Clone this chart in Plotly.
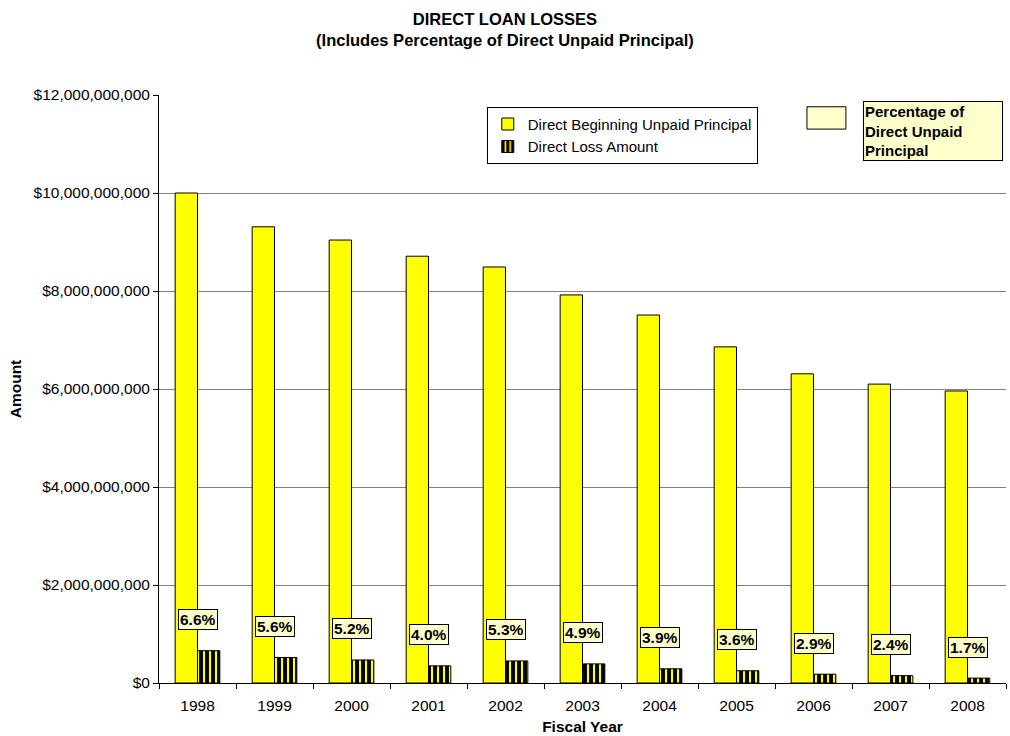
import plotly.graph_objects as go

years = ["1998", "1999", "2000", "2001", "2002", "2003", "2004", "2005", "2006", "2007", "2008"]
# direct beginning unpaid principal, $
principal = [10.0e9, 9.31e9, 9.04e9, 8.71e9, 8.49e9, 7.92e9, 7.51e9, 6.86e9, 6.31e9, 6.10e9, 5.96e9]
# direct loss amount, $
losses = [0.66e9, 0.52e9, 0.47e9, 0.35e9, 0.45e9, 0.39e9, 0.29e9, 0.25e9, 0.18e9, 0.15e9, 0.10e9]
pct_labels = ["6.6%", "5.6%", "5.2%", "4.0%", "5.3%", "4.9%", "3.9%", "3.6%", "2.9%", "2.4%", "1.7%"]

FONT = "Liberation Sans, Arial, sans-serif"

fig = go.Figure()
fig.add_trace(go.Bar(
    x=years, y=principal, name="Direct Beginning Unpaid Principal",
    marker=dict(color="#FFFF00", line=dict(color="black", width=1)),
))
fig.add_trace(go.Bar(
    x=years, y=losses, name="Direct Loss Amount",
    marker=dict(color="black", line=dict(color="black", width=1),
                pattern=dict(shape="|", bgcolor="black", fgcolor="#FFFF00",
                             size=6, solidity=0.35, fillmode="replace")),
))

# percentage data labels above the loss bars (x = category index)
for i, (val, lab) in enumerate(zip(losses, pct_labels)):
    fig.add_annotation(
        x=i, y=val, yshift=31, text="<b>%s</b>" % lab, showarrow=False,
        font=dict(family=FONT, size=15.5, color="black"),
        bgcolor="#FFFFCC", bordercolor="black", borderwidth=1, borderpad=1,
    )

# second "legend" box for the percentage labels
fig.add_shape(type="rect", xref="paper", yref="paper",
              x0=0.765, x1=0.811, y0=0.942, y1=0.98,
              fillcolor="#FFFFCC", line=dict(color="black", width=1))
fig.add_annotation(
    xref="paper", yref="paper", x=0.831, y=0.99, xanchor="left", yanchor="top",
    text="<b>Percentage of<br>Direct Unpaid<br>Principal</b>", showarrow=False, align="left",
    font=dict(family=FONT, size=15, color="black"),
    bgcolor="#FFFFCC", bordercolor="black", borderwidth=1, borderpad=1, width=136,
)

fig.update_layout(
    width=1010, height=736,
    margin=dict(l=159, r=4, t=95, b=53, autoexpand=False),
    paper_bgcolor="white", plot_bgcolor="white",
    font=dict(family=FONT, size=15.5, color="black"),
    title=dict(text="<b>DIRECT LOAN LOSSES<br>(Includes Percentage of Direct Unpaid Principal)</b>",
               x=0.5, xanchor="center", yref="container", y=0.966, yanchor="middle",
               font=dict(family=FONT, size=16.5)),
    barmode="group", bargap=0.42, bargroupgap=0,
    showlegend=True,
    legend=dict(x=0.387, y=0.98, xanchor="left", yanchor="top",
                bgcolor="white", bordercolor="black", borderwidth=1,
                font=dict(family=FONT, size=15), tracegroupgap=0,
                itemwidth=30),
)
fig.update_xaxes(
    type="category",
    title=dict(text="<b>Fiscal Year</b>", font=dict(family=FONT, size=15.5), standoff=8),
    showline=True, linecolor="black", linewidth=1,
    ticks="outside", tickson="boundaries", ticklen=5, tickcolor="black",
    ticklabelstandoff=8,
    showgrid=False, automargin=False, tickangle=0,
)
fig.update_yaxes(
    title=dict(text="<b>Amount</b>", font=dict(family=FONT, size=15.5), standoff=8),
    range=[0, 12e9], dtick=2e9, tickprefix="$", tickformat=",",
    showline=True, linecolor="black", linewidth=1,
    ticks="outside", ticklen=5, tickcolor="black",
    showgrid=True, gridcolor="#808080", gridwidth=1, zeroline=False, automargin=False,
)

# drop the browser's default page margin so the figure sits at the window corner
fig.write_html("out.html", config={"displayModeBar": False},
               post_script="document.body.style.margin = '0';")
